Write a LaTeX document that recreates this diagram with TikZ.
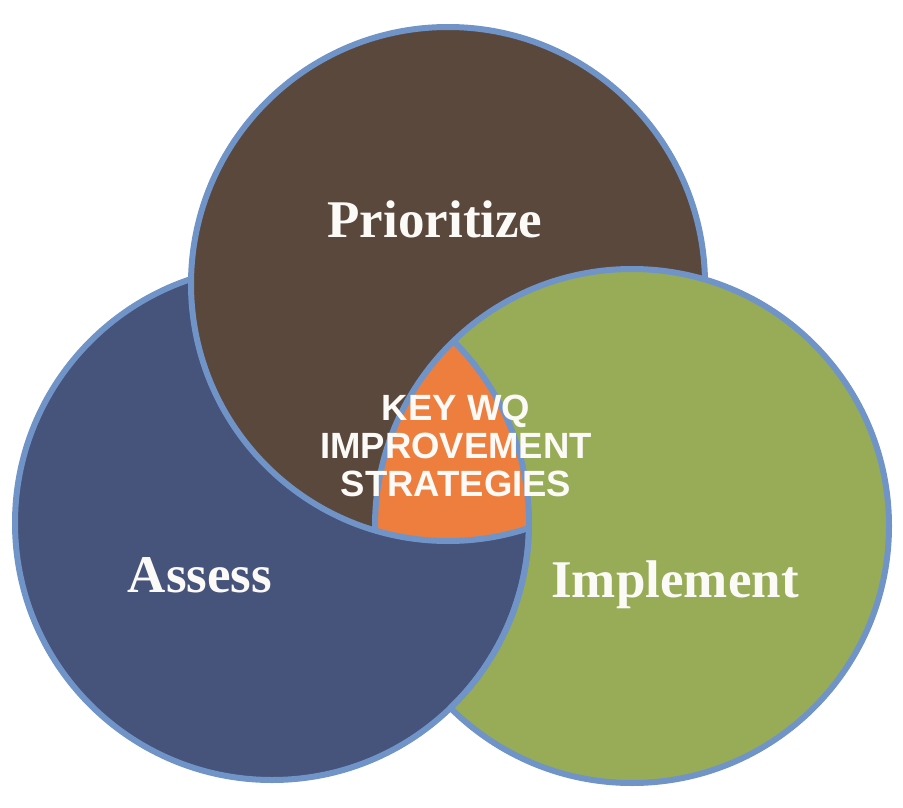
\documentclass[tikz,border=0pt]{standalone}
\usepackage{fontspec}
\setmainfont{Liberation Serif}
\newfontfamily\keyfont{Liberation Sans}
\usepackage{tikz}
\definecolor{ringblue}{HTML}{7094C8}
\definecolor{assessblue}{HTML}{46537B}
\definecolor{prioritybrown}{HTML}{5A483D}
\definecolor{implementgreen}{HTML}{98AC57}
\definecolor{keyorange}{HTML}{EE7E3E}
\definecolor{labelwhite}{HTML}{FBFAF7}

\begin{document}
\begin{tikzpicture}[x=1pt,y=-1pt]
				\tikzset{ring/.style={draw=ringblue,line width=6pt}}
				\tikzset{setlabel/.style={text=labelwhite,font=\bfseries\fontsize{53}{60}\selectfont,anchor=base,inner sep=0pt}}
				\tikzset{keylabel/.style={font=\keyfont\bfseries\fontsize{36.5}{38}\selectfont,align=center,inner sep=0pt}}
				\useasboundingbox (0,0) rectangle (903,808);
				\def\rad{257}
				\coordinate (assess) at (272,523);
				\coordinate (prior) at (448,284);
				\coordinate (impl) at (632,526);
				\fill[assessblue] (assess) circle (\rad);
				\fill[prioritybrown] (prior) circle (\rad);
				\fill[implementgreen] (impl) circle (\rad);
				\begin{scope}
					\clip (impl) circle (\rad+1.5);
					\fill[assessblue] (assess) circle (\rad);
					\begin{scope}
						\clip (assess) circle (\rad);
						\clip (prior) circle (\rad);
						\fill[keyorange] (impl) circle (\rad+1.5);
					\end{scope}
				\end{scope}
				\begin{scope}[even odd rule]
					\clip (0,0) rectangle (903,808) (prior) circle (\rad);
					\draw[ring] (assess) circle (\rad);
				\end{scope}
				\begin{scope}
					\clip (impl) circle (\rad);
					\draw[ring] (assess) circle (\rad);
				\end{scope}
				\begin{scope}[even odd rule]
					\clip (0,0) rectangle (903,808) (impl) circle (\rad);
					\draw[ring] (prior) circle (\rad);
				\end{scope}
				\begin{scope}
					\clip (impl) circle (\rad);
					\clip (assess) circle (\rad);
					\draw[ring] (prior) circle (\rad);
				\end{scope}
				\begin{scope}[even odd rule]
					\clip (0,0) rectangle (903,808) (assess) circle (\rad);
					\draw[ring] (impl) circle (\rad);
				\end{scope}
				\begin{scope}
					\clip (assess) circle (\rad);
					\clip (prior) circle (\rad);
					\draw[ring] (impl) circle (\rad);
				\end{scope}
				\node[setlabel] (prioritize) at (435,237) {Prioritize};
				\node[setlabel] (assesslabel) at (200,592) {Assess};
				\node[setlabel] (implement) at (675,597) {Implement};
				\node[keylabel,text=labelwhite] (key) at (456,446) {KEY WQ\\IMPROVEMENT\\STRATEGIES};
			\end{tikzpicture}
\end{document}
